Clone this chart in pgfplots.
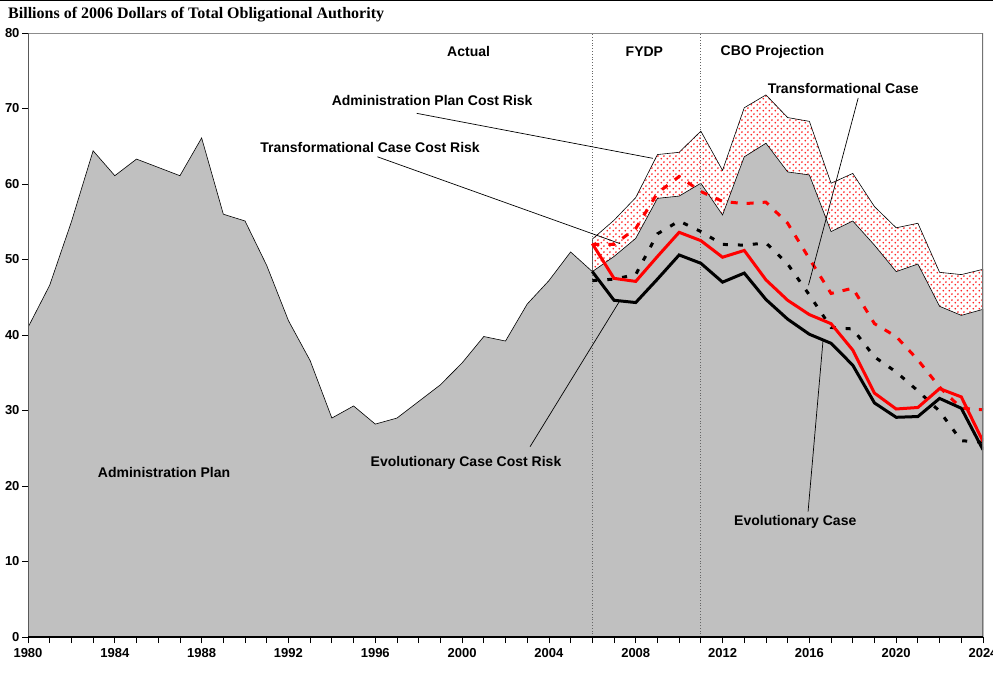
\documentclass[border=0pt]{standalone}
\usepackage{pgfplots}
\pgfplotsset{compat=1.18}
\usepackage{fontspec}
\setmainfont{Liberation Sans}
\newfontfamily\titlefont{Liberation Serif}
\usetikzlibrary{patterns}
\definecolor{areagray}{RGB}{192,192,192}
\pgfdeclarepatternformonly{reddots}{\pgfpointorigin}{\pgfpoint{5.6pt}{5.6pt}}{\pgfpoint{5.6pt}{5.6pt}}{%
  \pgfpathcircle{\pgfpoint{1.4pt}{1.4pt}}{1.0pt}\pgfusepath{fill}%
  \pgfpathcircle{\pgfpoint{4.2pt}{4.2pt}}{1.0pt}\pgfusepath{fill}}
\newcommand{\lab}{\bfseries\fontsize{14}{16}\selectfont}
\begin{document}
\begin{tikzpicture}
\useasboundingbox (0,0) rectangle (993pt,673pt);
\draw[line width=1.2pt] (0,672.6pt) -- (993pt,672.6pt);
\node[anchor=base west, font=\titlefont\bfseries\fontsize{16}{18}\selectfont, inner sep=0pt] at (8pt,654pt) {Billions of 2006 Dollars of Total Obligational Authority};
\begin{axis}[
  at={(28pt,36pt)}, anchor=south west, scale only axis,
  width=955pt, height=604pt,
  xmin=1980, xmax=2024, ymin=0, ymax=80,
  axis line style={draw=none},
  tick align=outside,
  xtick pos=left, ytick pos=left,
  xtick={1980,1984,1988,1992,1996,2000,2004,2008,2012,2016,2020,2024},
  xticklabels={1980,1984,1988,1992,1996,2000,2004,2008,2012,2016,2020,2024},
  minor xtick={1980,1981,...,2024},
  ytick={0,10,20,30,40,50,60,70,80},
  yticklabels={0,10,20,30,40,50,60,70,80},
  major tick length=6pt, minor tick length=6pt,
  tick style={black, line width=0.8pt},
  ticklabel style={font=\bfseries\fontsize{13}{15}\selectfont},
  yticklabel style={xshift=1pt},
  xticklabel style={yshift=-2pt},
]
% Administration Plan Cost Risk (hatched band top)
\addplot[draw=black, line width=0.6pt, pattern=reddots, pattern color=red!85] coordinates {
(2006,52.7)(2007,55.2)(2008,58.2)(2009,63.9)(2010,64.2)(2011,67.0)(2012,61.8)(2013,70.1)(2014,71.8)(2015,68.8)(2016,68.3)(2017,60.1)(2018,61.4)(2019,57.0)(2020,54.2)(2021,54.8)(2022,48.3)(2023,48.0)(2024,48.7)
} \closedcycle;
% Administration Plan (gray area)
\addplot[draw=black, line width=0.6pt, fill=areagray] coordinates {
(1980,41.0)(1981,46.6)(1982,55.0)(1983,64.4)(1984,61.1)(1985,63.3)(1986,62.2)(1987,61.1)(1988,66.1)(1989,56.0)(1990,55.1)(1991,49.2)(1992,41.9)(1993,36.6)(1994,29.0)(1995,30.6)(1996,28.2)(1997,29.0)(1998,31.2)(1999,33.4)(2000,36.3)(2001,39.8)(2002,39.2)(2003,44.1)(2004,47.2)(2005,51.0)(2006,48.4)(2007,50.4)(2008,52.8)(2009,58.1)(2010,58.4)(2011,60.1)(2012,55.9)(2013,63.6)(2014,65.4)(2015,61.6)(2016,61.2)(2017,53.7)(2018,55.1)(2019,51.9)(2020,48.4)(2021,49.4)(2022,43.8)(2023,42.6)(2024,43.4)
} \closedcycle;
\draw[black!60, dotted, line width=0.8pt] (axis cs:2006,0) -- (axis cs:2006,80);
\draw[black!60, dotted, line width=0.8pt] (axis cs:2011,0) -- (axis cs:2011,80);
% Evolutionary Case Cost Risk
\addplot[black, line width=3pt, dash pattern=on 5pt off 10pt] coordinates {
(2006,47.2)(2007,47.4)(2008,48.0)(2009,53.4)(2010,55.1)(2011,53.7)(2012,52.0)(2013,51.9)(2014,52.2)(2015,49.4)(2016,45.3)(2017,41.0)(2018,40.8)(2019,37.1)(2020,35.1)(2021,32.6)(2022,29.9)(2023,26.0)(2024,25.8)
};
% Transformational Case Cost Risk
\addplot[red, line width=3pt, dash pattern=on 7pt off 9pt] coordinates {
(2006,52.0)(2007,52.0)(2008,54.1)(2009,58.8)(2010,61.0)(2011,59.0)(2012,57.7)(2013,57.4)(2014,57.6)(2015,54.8)(2016,50.1)(2017,45.5)(2018,46.2)(2019,41.5)(2020,39.8)(2021,36.7)(2022,33.1)(2023,30.3)(2024,30.1)
};
% Transformational Case
\addplot[red, line width=3pt] coordinates {
(2006,52.1)(2007,47.5)(2008,47.1)(2009,50.4)(2010,53.6)(2011,52.5)(2012,50.3)(2013,51.2)(2014,47.3)(2015,44.6)(2016,42.7)(2017,41.5)(2018,38.0)(2019,32.3)(2020,30.2)(2021,30.4)(2022,32.9)(2023,31.8)(2024,25.9)
};
% Evolutionary Case
\addplot[black, line width=3pt] coordinates {
(2006,48.4)(2007,44.6)(2008,44.3)(2009,47.4)(2010,50.6)(2011,49.5)(2012,47.0)(2013,48.2)(2014,44.7)(2015,42.1)(2016,40.1)(2017,38.9)(2018,36.0)(2019,31.0)(2020,29.1)(2021,29.2)(2022,31.6)(2023,30.3)(2024,24.8)
};
% annotation leader lines
\draw[black, line width=0.7pt] (axis cs:1997.91,69.36) -- (axis cs:2008.79,63.4);
\draw[black, line width=0.7pt] (axis cs:1996.1,63.6) -- (axis cs:2007.28,52.1);
\draw[black, line width=0.7pt] (axis cs:2018.25,71.4) -- (axis cs:2015.96,46.6);
\draw[black, line width=0.7pt] (axis cs:2003.13,25.2) -- (axis cs:2007.28,44.6);
\draw[black, line width=0.7pt] (axis cs:2015.94,16.6) -- (axis cs:2016.63,39.3);
% labels
\node[font=\lab] at (axis cs:2000.3,77.5) {Actual};
\node[font=\lab] at (axis cs:2008.4,77.5) {FYDP};
\node[font=\lab] at (axis cs:2014.3,77.5) {CBO Projection};
\node[font=\lab] at (axis cs:1998.62,71.0) {Administration Plan Cost Risk};
\node[font=\lab] at (axis cs:1995.76,64.9) {Transformational Case Cost Risk};
\node[font=\lab] at (axis cs:2017.56,72.7) {Transformational Case};
\node[font=\lab] at (axis cs:2000.18,23.05) {Evolutionary Case Cost Risk};
\node[font=\lab] at (axis cs:2015.35,15.2) {Evolutionary Case};
\node[font=\lab] at (axis cs:1986.27,21.85) {Administration Plan};
% frame
\draw[black!45, line width=0.9pt] (rel axis cs:0,1) -- (rel axis cs:1,1);
\draw[black!55, line width=1.2pt] (rel axis cs:1,0) -- (rel axis cs:1,1);
\draw[black!65, line width=1.8pt] (rel axis cs:0,0) -- (rel axis cs:0,1);
\draw[black, line width=1.4pt] (rel axis cs:0,0) -- (rel axis cs:1,0);
\end{axis}
\end{tikzpicture}
\end{document}
